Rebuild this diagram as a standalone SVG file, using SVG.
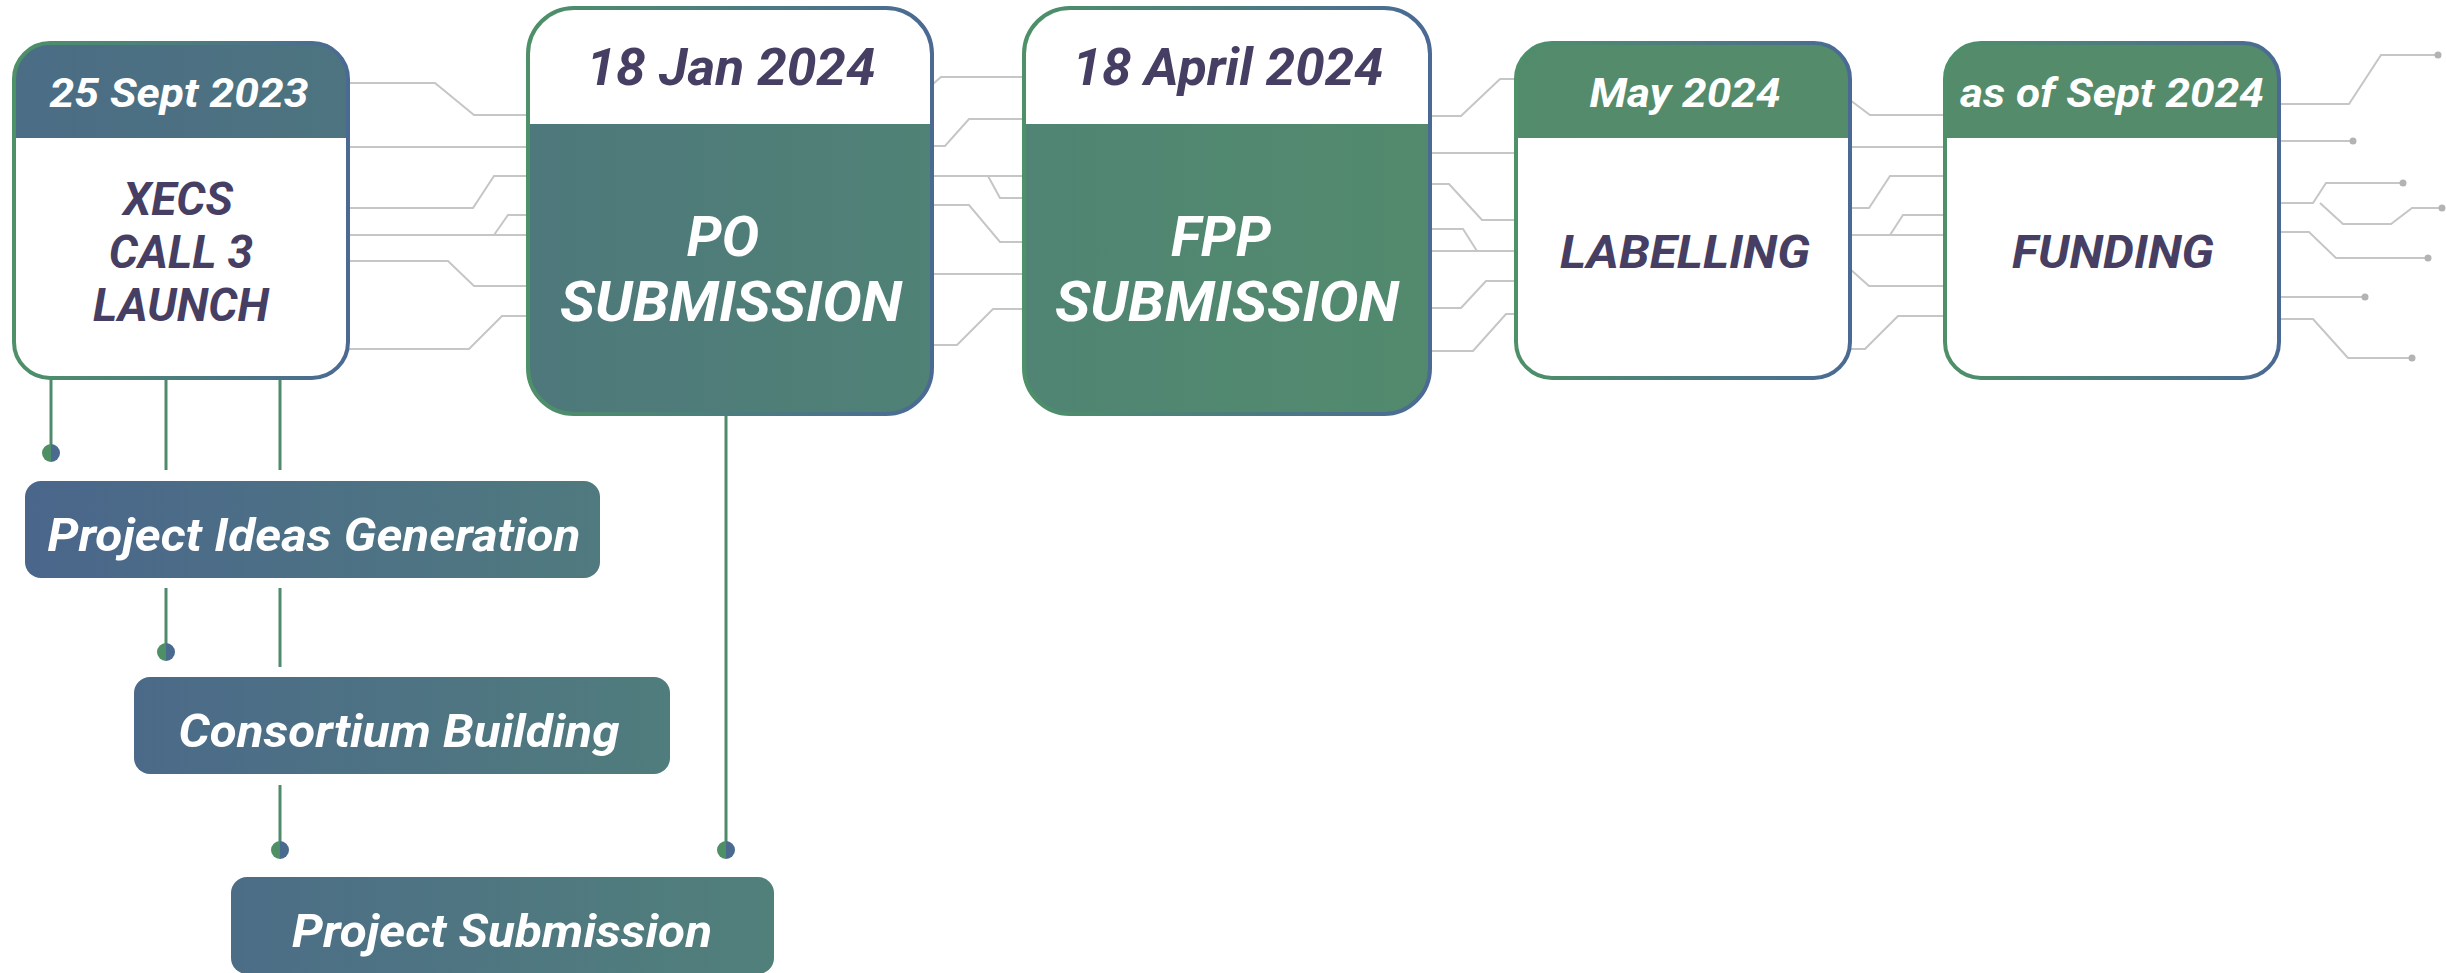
<svg xmlns="http://www.w3.org/2000/svg" width="2446" height="973" viewBox="0 0 2446 973">
<style>
.t{font-family:Roboto,"Liberation Sans",sans-serif;font-weight:700;font-style:italic;text-anchor:middle}
.dk{fill:#463f63}
.wh{fill:#ffffff}
.gl{fill:none;stroke:#c6c6c6;stroke-width:2}
.gd{fill:#b3b3b3}
.vl{fill:none;stroke:#4f8a6c;stroke-width:3}
.bd{fill:none;stroke:url(#border);stroke-width:4}
</style>
<defs>
<linearGradient id="border" x1="0" y1="0" x2="1" y2="0">
<stop offset="0" stop-color="#4e9068"/>
<stop offset="1" stop-color="#4a6a94"/>
</linearGradient>
<linearGradient id="row" gradientUnits="userSpaceOnUse" x1="0" y1="0" x2="2300" y2="0">
<stop offset="0" stop-color="#4b6c86"/>
<stop offset="0.32" stop-color="#4f7d78"/>
<stop offset="0.53" stop-color="#518870"/>
<stop offset="0.7" stop-color="#538b6b"/>
<stop offset="1" stop-color="#538b6b"/>
</linearGradient>
<linearGradient id="sub" gradientUnits="userSpaceOnUse" x1="0" y1="0" x2="800" y2="0">
<stop offset="0" stop-color="#4a658c"/>
<stop offset="1" stop-color="#51817a"/>
</linearGradient>
<linearGradient id="dot" x1="0" y1="0" x2="1" y2="0">
<stop offset="0.5" stop-color="#4f8f66"/>
<stop offset="0.5" stop-color="#4a6a90"/>
</linearGradient>
<clipPath id="c1"><rect x="14" y="43" width="334" height="335" rx="36"/></clipPath>
<clipPath id="c2"><rect x="528" y="8" width="404" height="406" rx="46"/></clipPath>
<clipPath id="c3"><rect x="1024" y="8" width="406" height="406" rx="46"/></clipPath>
<clipPath id="c4"><rect x="1516" y="43" width="334" height="335" rx="36"/></clipPath>
<clipPath id="c5"><rect x="1945" y="43" width="334" height="335" rx="36"/></clipPath>
</defs>

<g id="connectors">
<g id="grey-links">
<path class="gl" d="M348 83 H435 L474 115 H528"/>
<path class="gl" d="M348 147 H528"/>
<path class="gl" d="M348 208 H473 L494 176 H528"/>
<path class="gl" d="M348 235 H528 M494 235 L508 215 H528"/>
<path class="gl" d="M348 261 H448 L474 286 H528"/>
<path class="gl" d="M348 349 H469 L502 316 H528"/>

<path class="gl" d="M933 84 L941 77 H1024"/>
<path class="gl" d="M932 146 H945 L969 119 H1024"/>
<path class="gl" d="M932 176 H1024 M988 176 L1000 198 H1024"/>
<path class="gl" d="M932 205 H969 L1000 242 H1024"/>
<path class="gl" d="M932 274 H1024"/>
<path class="gl" d="M932 345 H957 L993 309 H1024"/>

<path class="gl" d="M1430 116 H1461 L1500 79 H1516"/>
<path class="gl" d="M1430 153 H1516"/>
<path class="gl" d="M1430 184 H1449 L1482 220 H1516"/>
<path class="gl" d="M1430 229 H1463 L1477 251 M1430 251 H1516"/>
<path class="gl" d="M1430 308 H1461 L1486 281 H1516"/>
<path class="gl" d="M1430 351 H1473 L1506 314 H1516"/>

<path class="gl" d="M1850 100 L1870 115 H1945"/>
<path class="gl" d="M1850 147 H1945"/>
<path class="gl" d="M1850 208 H1869 L1890 176 H1945"/>
<path class="gl" d="M1850 235 H1945 M1890 235 L1903 215 H1945"/>
<path class="gl" d="M1850 269 L1869 286 H1945"/>
<path class="gl" d="M1850 349 H1865 L1898 316 H1945"/>

<path class="gl" d="M2279 104 H2349 L2381 55 H2438"/>
<path class="gl" d="M2279 141 H2353"/>
<path class="gl" d="M2279 203 H2313 L2326 183 H2403"/>
<path class="gl" d="M2320 203 L2343 224 H2391 L2412 208 H2443"/>
<path class="gl" d="M2279 232 H2309 L2336 258 H2428"/>
<path class="gl" d="M2279 297 H2365"/>
<path class="gl" d="M2279 319 H2313 L2348 358 H2412"/>
<circle class="gd" cx="2438" cy="55" r="3.5"/>
<circle class="gd" cx="2353" cy="141" r="3.5"/>
<circle class="gd" cx="2403" cy="183" r="3.5"/>
<circle class="gd" cx="2442" cy="208" r="3.5"/>
<circle class="gd" cx="2428" cy="258" r="3.5"/>
<circle class="gd" cx="2365" cy="297" r="3.5"/>
<circle class="gd" cx="2412" cy="358" r="3.5"/>
</g>
<g id="green-links">
<path class="vl" d="M51 380 V452"/>
<path class="vl" d="M166 380 V470"/>
<path class="vl" d="M280 380 V470"/>
<path class="vl" d="M166 588 V652"/>
<path class="vl" d="M280 588 V667"/>
<path class="vl" d="M280 785 V850"/>
<path class="vl" d="M726 416 V850"/>
<circle cx="51" cy="453" r="9" fill="url(#dot)"/>
<circle cx="166" cy="652" r="9" fill="url(#dot)"/>
<circle cx="280" cy="850" r="9" fill="url(#dot)"/>
<circle cx="726" cy="850" r="9" fill="url(#dot)"/>
</g>
</g>

<g id="node-xecs">
<g clip-path="url(#c1)">
<rect x="14" y="43" width="334" height="335" fill="#ffffff"/>
<rect x="14" y="43" width="334" height="95" fill="url(#row)"/>
</g>
<rect class="bd" x="14" y="43" width="334" height="335" rx="36"/>
<text class="t wh" x="179" y="107" font-size="41" textLength="259" lengthAdjust="spacingAndGlyphs">25 Sept 2023</text>
<text class="t dk" x="178" y="215" font-size="46">XECS</text>
<text class="t dk" x="181" y="268" font-size="46">CALL 3</text>
<text class="t dk" x="181" y="321" font-size="46">LAUNCH</text>
</g>

<g id="node-po">
<g clip-path="url(#c2)">
<rect x="528" y="8" width="404" height="406" fill="url(#row)"/>
<rect x="528" y="8" width="404" height="116" fill="#ffffff"/>
</g>
<rect class="bd" x="528" y="8" width="404" height="406" rx="46"/>
<text class="t dk" x="731" y="85" font-size="52" textLength="289" lengthAdjust="spacingAndGlyphs">18 Jan 2024</text>
<text class="t wh" x="723" y="256" font-size="56">PO</text>
<text class="t wh" x="731" y="321" font-size="56" textLength="342" lengthAdjust="spacingAndGlyphs">SUBMISSION</text>
</g>

<g id="node-fpp">
<g clip-path="url(#c3)">
<rect x="1024" y="8" width="406" height="406" fill="url(#row)"/>
<rect x="1024" y="8" width="406" height="116" fill="#ffffff"/>
</g>
<rect class="bd" x="1024" y="8" width="406" height="406" rx="46"/>
<text class="t dk" x="1228" y="85" font-size="52" textLength="311" lengthAdjust="spacingAndGlyphs">18 April 2024</text>
<text class="t wh" x="1221" y="256" font-size="56">FPP</text>
<text class="t wh" x="1227" y="321" font-size="56" textLength="344" lengthAdjust="spacingAndGlyphs">SUBMISSION</text>
</g>

<g id="node-labelling">
<g clip-path="url(#c4)">
<rect x="1516" y="43" width="334" height="335" fill="#ffffff"/>
<rect x="1516" y="43" width="334" height="95" fill="url(#row)"/>
</g>
<rect class="bd" x="1516" y="43" width="334" height="335" rx="36"/>
<text class="t wh" x="1685" y="107" font-size="41" textLength="191" lengthAdjust="spacingAndGlyphs">May 2024</text>
<text class="t dk" x="1685" y="268" font-size="46" textLength="250" lengthAdjust="spacingAndGlyphs">LABELLING</text>
</g>

<g id="node-funding">
<g clip-path="url(#c5)">
<rect x="1945" y="43" width="334" height="335" fill="#ffffff"/>
<rect x="1945" y="43" width="334" height="95" fill="url(#row)"/>
</g>
<rect class="bd" x="1945" y="43" width="334" height="335" rx="36"/>
<text class="t wh" x="2112" y="107" font-size="41" textLength="304" lengthAdjust="spacingAndGlyphs">as of Sept 2024</text>
<text class="t dk" x="2113" y="268" font-size="46" textLength="202" lengthAdjust="spacingAndGlyphs">FUNDING</text>
</g>

<g id="node-ideas">
<rect x="25" y="481" width="575" height="97" rx="16" fill="url(#sub)"/>
<text class="t wh" x="314" y="551" font-size="47" textLength="533" lengthAdjust="spacingAndGlyphs">Project Ideas Generation</text>
</g>

<g id="node-consortium">
<rect x="134" y="677" width="536" height="97" rx="16" fill="url(#sub)"/>
<text class="t wh" x="399" y="747" font-size="47" textLength="441" lengthAdjust="spacingAndGlyphs">Consortium Building</text>
</g>

<g id="node-submission">
<rect x="231" y="877" width="543" height="97" rx="16" fill="url(#sub)"/>
<text class="t wh" x="502" y="947" font-size="47" textLength="420" lengthAdjust="spacingAndGlyphs">Project Submission</text>
</g>
</svg>
